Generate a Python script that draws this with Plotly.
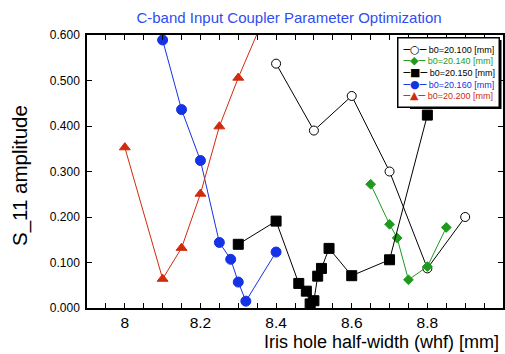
import plotly.graph_objects as go

# b0 = 20.100 mm (open circles)
x_b100 = [8.40, 8.50, 8.60, 8.70, 8.80, 8.90]
y_b100 = [0.537, 0.390, 0.466, 0.300, 0.087, 0.200]

# b0 = 20.140 mm (green diamonds)
x_b140 = [8.65, 8.70, 8.72, 8.75, 8.80, 8.85]
y_b140 = [0.272, 0.184, 0.154, 0.062, 0.091, 0.177]

# b0 = 20.150 mm (black squares)
x_b150 = [8.30, 8.40, 8.46, 8.48, 8.49, 8.50, 8.51, 8.52, 8.54, 8.60, 8.70, 8.80]
y_b150 = [0.140, 0.191, 0.054, 0.037, 0.009, 0.016, 0.070, 0.087, 0.131, 0.071, 0.106, 0.424]

# b0 = 20.160 mm (blue circles)
x_b160 = [8.10, 8.15, 8.20, 8.25, 8.28, 8.30, 8.32, 8.40]
y_b160 = [0.589, 0.436, 0.324, 0.144, 0.107, 0.057, 0.015, 0.123]

# b0 = 20.200 mm (red triangles)
x_b200 = [8.00, 8.10, 8.15, 8.20, 8.25, 8.30, 8.40]
y_b200 = [0.353, 0.064, 0.132, 0.251, 0.399, 0.506, 0.700]

series_names = ["b0=20.100 [mm]", "b0=20.140 [mm]", "b0=20.150 [mm]",
                "b0=20.160 [mm]", "b0=20.200 [mm]"]
legend_glyphs = ["○", "◆", "■", "●", "▲"]

GREEN = "#1e9a1e"
BLUE = "#1432e6"
RED = "#d22a0c"
BLACK = "#000000"
colors = [BLACK, GREEN, BLACK, BLUE, RED]

fig = go.Figure()

def add(xs, ys, name, color, symbol, size, open_=False):
    fig.add_trace(go.Scatter(
        x=xs, y=ys, mode="lines+markers", name=name,
        line=dict(color=color, width=1),
        marker=dict(symbol=symbol, size=size,
                    color="white" if open_ else color,
                    line=dict(color=color, width=1)),
    ))

add(x_b100, y_b100, series_names[0], BLACK, "circle", 9, open_=True)
add(x_b140, y_b140, series_names[1], GREEN, "diamond", 7.5)
add(x_b150, y_b150, series_names[2], BLACK, "square", 10)
add(x_b160, y_b160, series_names[3], BLUE, "circle", 10)
add(x_b200, y_b200, series_names[4], RED, "triangle-up", 9.5)

FONT = "Liberation Sans, Arial, Helvetica, sans-serif"
SYMFONT = "DejaVu Sans"

# compact legend built as text (native legend rows are too tall)
rows = []
for name, glyph, c in zip(series_names, legend_glyphs, colors):
    rows.append(
        f'<span style="color:{c};font-size:11px;font-family:{SYMFONT}">─{glyph}─</span>'
        f'<span style="color:{c}"> {name}</span>'
    )
legend_text = "<br>".join(rows)

annotations = [
    # legend box
    dict(xref="paper", yref="paper", x=0.993, y=0.993,
         xanchor="right", yanchor="top", align="left",
         showarrow=False, text=legend_text,
         font=dict(family=FONT, size=9, color="black"),
         borderpad=4, borderwidth=1.5, bgcolor="white", bordercolor="black"),
    # axis titles
    dict(xref="paper", yref="paper", x=-0.161, y=0.4835, textangle=-90,
         xanchor="center", yanchor="middle", showarrow=False,
         text="S_11 amplitude", font=dict(family=FONT, size=20.5, color="black")),
    dict(xref="paper", yref="paper", x=0.995, y=-0.1245,
         xanchor="right", yanchor="middle", showarrow=False,
         text="Iris hole half-width (whf) [mm]",
         font=dict(family=FONT, size=18, color="black")),
]

# drop shadow behind the legend box (pixel geometry converted to paper units)
PL, PW, PB, PH = 87, 416, 308, 273
def px_x(p): return (p - PL) / PW
def px_y(p): return (PB - p) / PH
shapes = [dict(type="rect", xref="paper", yref="paper", layer="above",
               x0=px_x(410), x1=px_x(501.5), y0=px_y(109), y1=px_y(40),
               fillcolor="black", line=dict(width=0))]

fig.update_layout(
    width=505, height=354,
    margin=dict(l=87, r=2, t=35, b=46),
    paper_bgcolor="white", plot_bgcolor="white",
    font=dict(family=FONT, size=11, color="black"),
    title=dict(text="C-band Input Coupler Parameter Optimization",
               font=dict(family=FONT, size=15, color="#2f4df2"),
               xref="container", x=289 / 505, xanchor="center",
               yref="container", y=1 - 18 / 354, yanchor="middle"),
    showlegend=False,
    annotations=annotations,
    shapes=shapes,
    xaxis=dict(range=[7.9, 9.0], dtick=0.2, tick0=8.0, automargin=False,
               ticks="inside", ticklen=5, tickwidth=1, tickcolor="black",
               minor=dict(dtick=0.05, ticks="inside", ticklen=5, tickcolor="black"),
               showline=True, linecolor="black", linewidth=1.5, mirror="allticks",
               showgrid=False, zeroline=False,
               tickfont=dict(size=15.5)),
    yaxis=dict(range=[0, 0.6], dtick=0.1, tickformat=".3f", automargin=False,
               ticks="inside", ticklen=5, tickwidth=1, tickcolor="black",
               showline=True, linecolor="black", linewidth=1.5, mirror="allticks",
               showgrid=False, zeroline=False, ticklabelstandoff=3,
               tickfont=dict(size=12)),
)

fig.write_html("out.html",
               config={"displayModeBar": False},
               post_script="document.body.style.margin='0';document.body.style.overflow='hidden';")
